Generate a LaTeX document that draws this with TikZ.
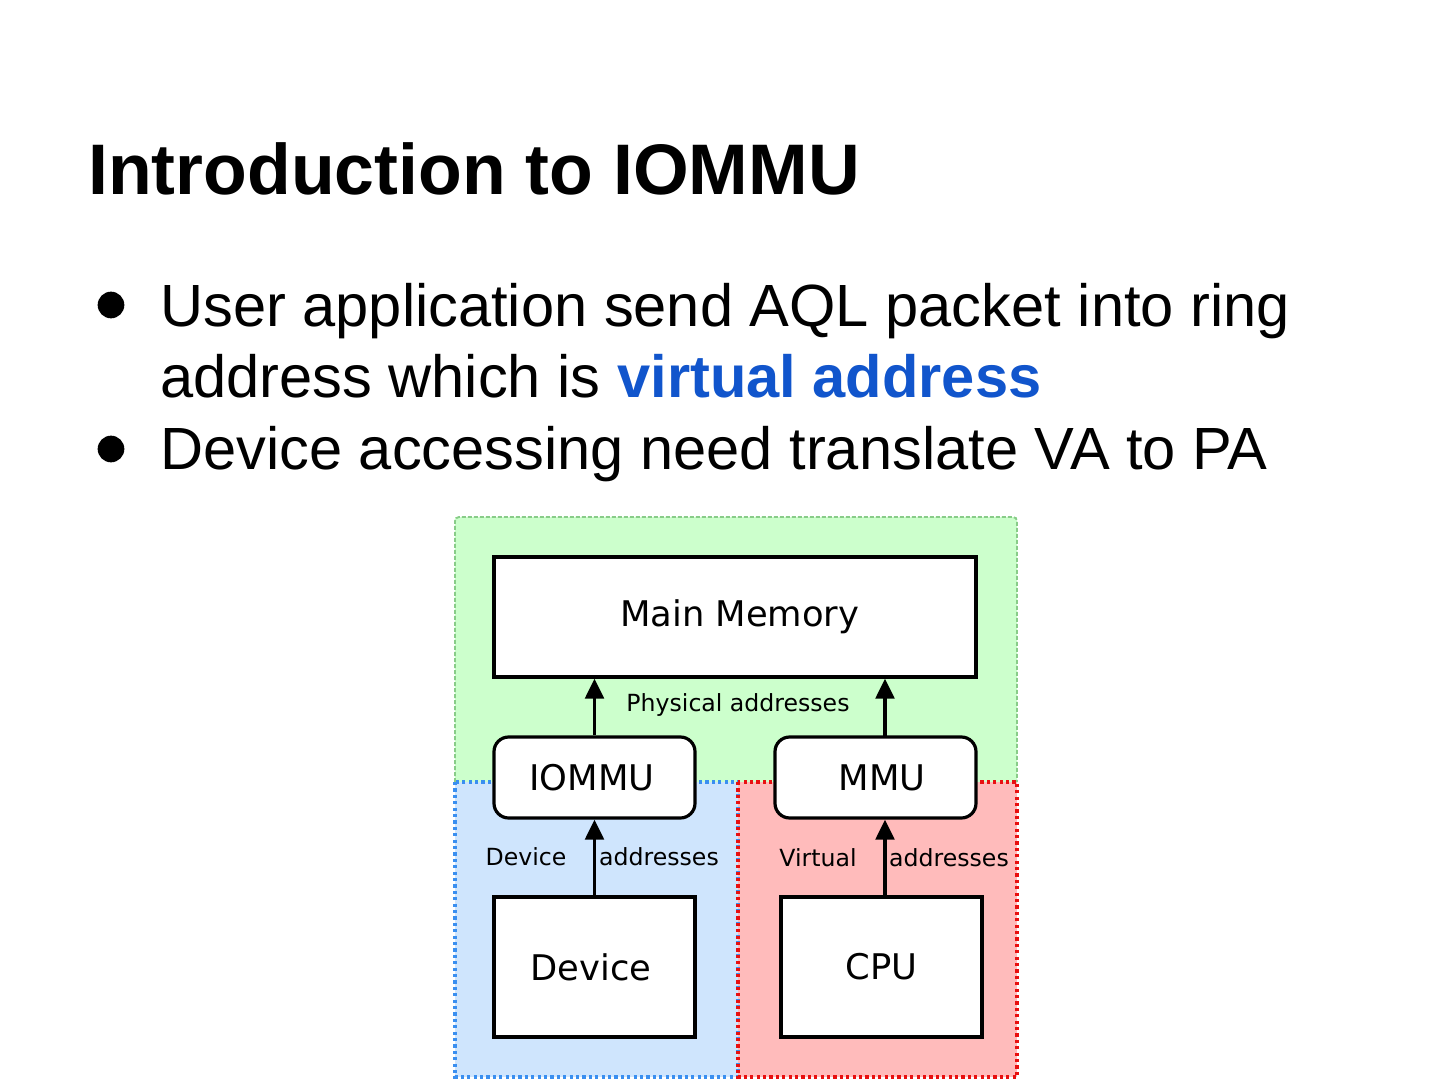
\documentclass[tikz,border=0pt]{standalone}
\usepackage{fontspec}
\setmainfont{Liberation Sans}
\newfontfamily\dejavu{DejaVu Sans}
\usetikzlibrary{arrows.meta}
\definecolor{slideblue}{HTML}{1155CC}
\definecolor{gfill}{HTML}{CCFFCC}
\definecolor{gline}{HTML}{88CC88}
\definecolor{bfill}{HTML}{CFE5FD}
\definecolor{bline}{HTML}{3A8FF0}
\definecolor{rfill}{HTML}{FFBBBB}
\definecolor{rline}{HTML}{E81010}
\tikzset{
  txt/.style={anchor=base west, inner sep=0pt, font=\fontsize{44.7}{50}\selectfont},
  box/.style={draw=black, fill=white, line width=2.4pt, inner sep=0pt, font=\dejavu\fontsize{26.5}{30}\selectfont},
  rbox/.style={box, rounded corners=11pt},
  lbl/.style={inner sep=0pt, font=\dejavu\fontsize{17.7}{20}\selectfont},
  arr/.style={line width=2.4pt, -{Triangle[width=14pt,length=15pt]}},
  dotb/.style={dash pattern=on 2.4pt off 2.4pt},
}
\begin{document}
\begin{tikzpicture}[x=0.75pt,y=-0.75pt]
\useasboundingbox[fill=white] (0,0) rectangle (1440,1080);
% title and bullets
\node[anchor=base west, inner sep=0pt, font=\bfseries\fontsize{53.7}{60}\selectfont] (title) at (88,195) {Introduction to IOMMU};
\node[circle, fill=black, inner sep=0pt, minimum size=20pt] (b1) at (111,305) {};
\node[circle, fill=black, inner sep=0pt, minimum size=20pt] (b2) at (111,449) {};
\node[txt] (l1) at (160,327) {User application send AQL packet into ring};
\node[txt] (l2) at (160,398) {address which is \textcolor{slideblue}{\bfseries virtual address}};
\node[txt] (l3) at (160,470) {Device accessing need translate VA to PA};
% regions
\fill[gfill] (455,517) rectangle (1017,782);
\draw[gline, line width=1.4pt, dash pattern=on 3pt off 1.5pt, rounded corners=3pt] (455,782) -- (455,517) -- (1017,517) -- (1017,782);
\fill[bfill] (455,782) rectangle (738,1077);
\fill[rfill] (738,782) rectangle (1017,1077);
\draw[bline, line width=2.6pt, dotb] (455,782) rectangle (738,1077);
\draw[rline, line width=2.8pt, dotb] (738,782) rectangle (1017,1077);
% boxes
\node[box, minimum width=361.5pt, minimum height=90pt] (mm) at (735,617) {\hspace*{7pt}Main Memory};
\node[rbox, minimum width=150.75pt, minimum height=60.75pt] (iommu) at (594.5,777.5) {\hspace*{-4pt}IOMMU};
\node[rbox, minimum width=150.75pt, minimum height=60.75pt] (mmu) at (875.5,777.5) {\hspace*{10pt}MMU};
\node[box, minimum width=150.75pt, minimum height=105pt] (dev) at (594.5,967) {\hspace*{-5pt}Device};
\node[box, minimum width=150.75pt, minimum height=105pt] (cpu) at (881.5,967) {CPU};
% arrows
\coordinate (a1) at (iommu.north);
\coordinate (a2) at (885,737);
\draw[arr] (a1) -- (a1 |- mm.south);
\draw[arr] (a2) -- (a2 |- mm.south);
\draw[arr] (dev.north) -- (dev.north |- iommu.south);
\coordinate (a3) at (885,897);
\draw[arr] (a3) -- (a3 |- mmu.south);
% labels
\node[lbl] (pa) at (738,705) {Physical addresses};
\node[lbl] (da1) at (526,857) {Device};
\node[lbl] (da2) at (659,857) {addresses};
\node[lbl] (va1) at (818,858) {Virtual};
\node[lbl] (va2) at (949,858) {addresses};
\end{tikzpicture}
\end{document}
